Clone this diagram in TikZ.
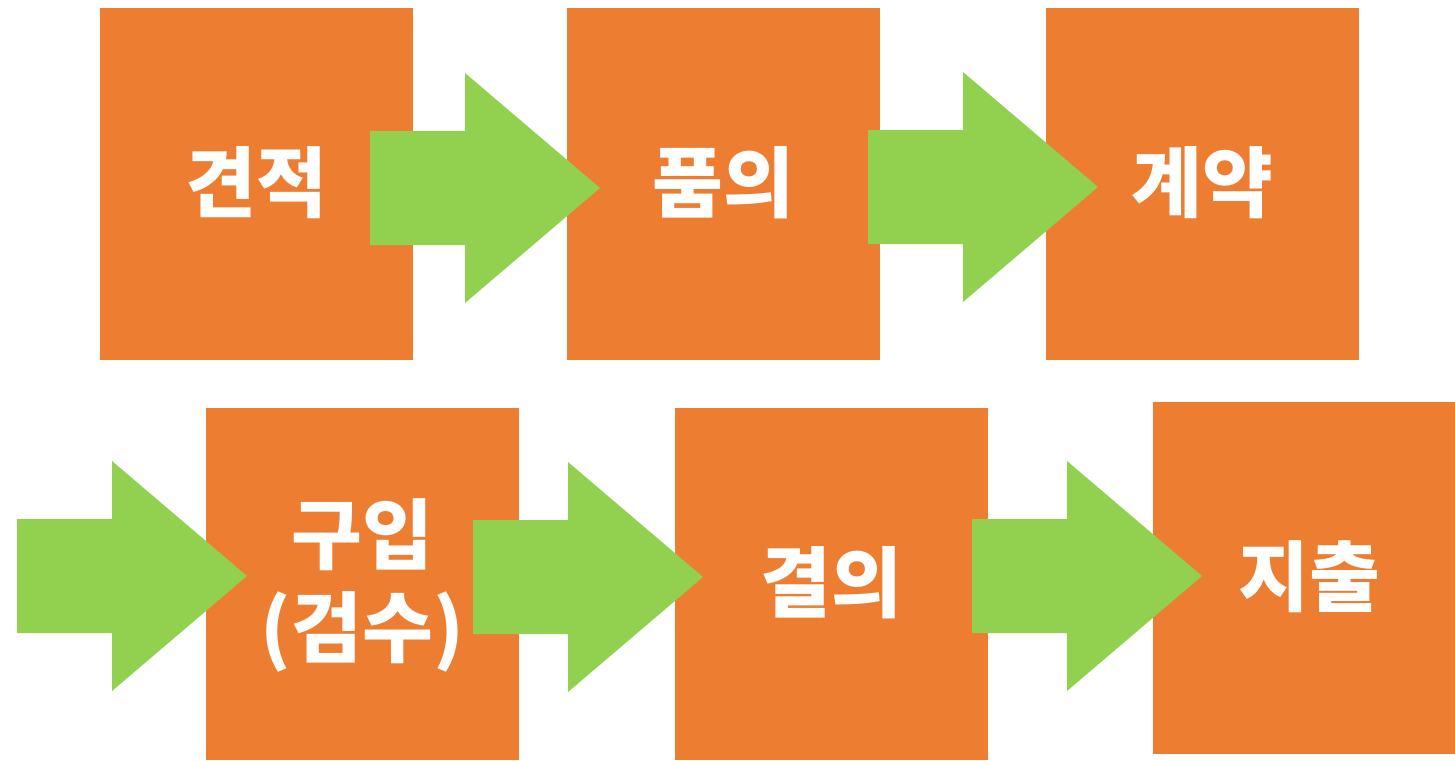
\documentclass[tikz,border=0pt]{standalone}
\usepackage{fontspec}
\newfontfamily\kr{Noto Sans CJK KR}
\definecolor{boxorange}{HTML}{ED7D31}
\definecolor{arrowgreen}{HTML}{92D050}
\begin{document}
\begin{tikzpicture}[x=1pt,y=-1pt,
  stepbox/.style={fill=boxorange,draw=none},
  flowarrow/.style={fill=arrowgreen,draw=none},
  label/.style={text=white,font=\kr\bfseries\fontsize{77}{93}\selectfont,align=center,inner sep=0pt}]
\useasboundingbox (0,0) rectangle (1455,760);
\begin{scope}
\clip (0,0) rectangle (1455,760);
% boxes
\fill[stepbox] (100,8) rectangle (413,360);
\fill[stepbox] (567,8) rectangle (880,360);
\fill[stepbox] (1046,8) rectangle (1359,360);
\fill[stepbox] (206,408) rectangle (519,760);
\fill[stepbox] (675,408) rectangle (988,760);
\fill[stepbox] (1153,402) rectangle (1466,754);
\node[label] (n1) at (256.5,183) {견적};
\node[label] (n2) at (723.5,183) {품의};
\node[label] (n3) at (1202.5,183) {계약};
\node[label] (n4) at (362.5,585) {구입\\(검수)};
\node[label] (n5) at (831.5,583) {결의};
\node[label] (n6) at (1309.5,577) {지출};
% arrows
\newcommand\flowarr[2]{%
  \fill[flowarrow] (#1,#2-57) -- ++(95,0) -- ++(0,-58) -- (#1+230,#2) -- (#1+95,#2+115) -- ++(0,-58) -- (#1,#2+57) -- cycle;}
\flowarr{370}{188}
\flowarr{868}{187}
\flowarr{17}{576}
\flowarr{473}{577}
\flowarr{972}{576}
\end{scope}
\end{tikzpicture}
\end{document}
